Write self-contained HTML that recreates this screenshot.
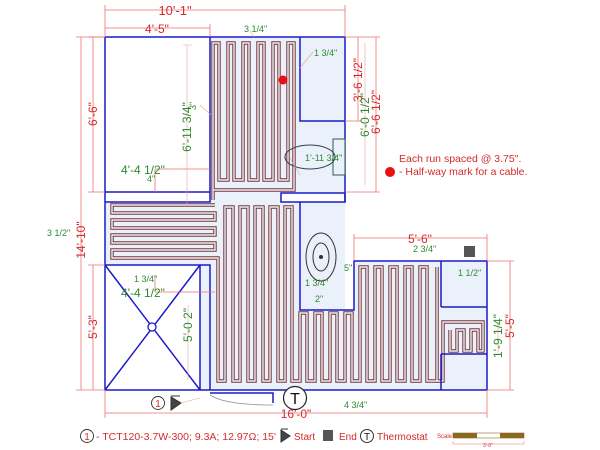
<!DOCTYPE html>
<html><head><meta charset="utf-8"><style>
html,body{margin:0;padding:0;background:#fff;}
svg{display:block;font-family:"Liberation Sans",sans-serif;}
.r{fill:#d42a2a;font-size:12px;}
.g{fill:#2e8b2e;font-size:9px;}
.G{fill:#2e8b2e;font-size:12px;}
.dl{stroke:#ee7070;stroke-width:0.8;fill:none;}
.b{stroke:#1a1acc;stroke-width:1.5;fill:none;}
.ld{stroke:#f0a0a0;stroke-width:0.6;fill:none;}
</style></head><body>
<svg width="600" height="450" viewBox="0 0 600 450">
<defs>
<g id="cab" fill="none">
<path d="M213 200 V43 H219 V180 H228 V43 H234 V180 H243 V43 H249 V180 H258 V43 H264 V180 H273 V43 H279 V180 H288 V43 H294 V190 H213"/>
<path d="M215 205 H112 V213 H215 V220 H112 V228 H215 V235 H112 V243 H215 V250 H112 V258 H218 V381 H225 V207 H233 V381 H240 V207 H248 V381 H255 V207 H263 V381 H270 V207 H278 V381 H285 V207 H292 V381 H300 V313 H307 V381 H315 V313 H322 V381 H330 V313 H337 V381 H345 V313 H352 V381 H360 V267 H367 V381 H375 V267 H382 V381 H390 V267 H397 V381 H405 V267 H412 V381 H420 V267 H427 V381 H437 V267"/>
<path d="M437 381 H443 V322 H483 V351 H478 V330 H471 V351 H464 V330 H457 V351 H450 V330"/>
</g>
</defs>
<!-- heated floor background -->
<path d="M210 37 H300 V193 H281 V202 H300 V310 H354 V261 H487 V390 H105 V202 H210 Z" fill="#eaf1fb"/>
<rect x="300" y="37" width="45" height="156" fill="#eaf1fb"/>
<rect x="300" y="202" width="45" height="108" fill="#eaf1fb"/>
<rect x="105" y="265" width="105" height="125" fill="#eaf1fb"/>
<!-- cables -->
<use href="#cab" fill="none" stroke="#7a3434" stroke-width="3.4"/>
<use href="#cab" fill="none" stroke="#eaf1fb" stroke-width="1.4"/>
<!-- white rooms -->
<rect x="105" y="37" width="105" height="155" fill="#fff"/>
<rect x="105" y="192" width="105" height="10" fill="#fff"/>
<rect x="300" y="37" width="45" height="84" fill="#eaf1fb"/>
<rect x="281" y="193" width="64" height="9" fill="#fff"/>
<rect x="105" y="265" width="95" height="125" fill="#fff"/>
<!-- blue walls -->
<g class="b">
<path d="M105 37 H345 V202 M210 37 V192 M105 37 V390 H487 V261 H354 V310 H300 V202 M105 192 H210 M105 202 H210 V192"/>
<path d="M300 37 V121 H345"/>
<rect x="281" y="193" width="64" height="9"/>
<path d="M105 265 H210 V390 M200 265 V390 M105 265 L200 390 M200 265 L105 390"/>
<path d="M441 261 V307 M441 354 V390 M441 307 H487 M441 354 H487"/>
<path d="M210 393 H273 V403"/>
</g>
<circle cx="152" cy="327" r="4" fill="#fff" stroke="#1a1acc" stroke-width="1.3"/>
<path d="M210 395 Q225 405 273 405" stroke="#999" stroke-width="0.8" fill="none"/>
<!-- fixtures -->
<rect x="333" y="139" width="12" height="36" fill="#eaf1fb" stroke="#2f5f4f" stroke-width="1"/>
<ellipse cx="310" cy="157" rx="25" ry="12" fill="none" stroke="#333f4f" stroke-width="1"/>
<ellipse cx="321" cy="257" rx="15" ry="24" fill="none" stroke="#333" stroke-width="1"/>
<ellipse cx="321" cy="257" rx="8" ry="14" fill="none" stroke="#333" stroke-width="1"/>
<circle cx="321" cy="257" r="2" fill="#333"/>
<!-- dimension lines -->
<g class="dl">
<path d="M105 10 H345 M105 5 V37 M345 5 V37"/>
<path d="M105 28 H210 M210 24 V37"/>
<path d="M93 37 V192 M88 37 H105 M88 192 H105"/>
<path d="M81 37 V390 M76 37 H105 M76 390 H105"/>
<path d="M93 265 V390 M88 265 H105"/>
<path d="M105 413 H487 M105 390 V418 M487 390 V418"/>
<path d="M358 37 V121 M345 37 H380 M345 121 H362"/>
<path d="M376 37 V192 M345 192 H380"/>
<path d="M354 238 H487 M354 234 V261 M487 234 V261"/>
<path d="M510 261 V390 M487 261 H514 M487 390 H514"/>
<path d="M155 169 V192 M155 169 H210 M155 292 V275 M155 292 H215"/>
</g>
<g class="ld">
<path d="M187 45 V205 M183 45 H192"/>
<path d="M365 43 V185 M498 322 V352 M188 305 V380"/>
<path d="M211 115 L200 105 M300 68 L313 52 M254 37 L250 31 M300 175 L290 158"/>
</g>
<!-- red labels -->
<g class="r" text-anchor="middle">
<text x="175" y="15" font-size="13">10'-1"</text>
<text x="157" y="33">4'-5"</text>
<text x="296" y="418">16'-0"</text>
<text x="420" y="243">5'-6"</text>
<text transform="translate(97,114) rotate(-90)">6'-6"</text>
<text transform="translate(85,240) rotate(-90)">14'-10"</text>
<text transform="translate(97,327) rotate(-90)">5'-3"</text>
<text transform="translate(362,80) rotate(-90)">3'-6 1/2"</text>
<text transform="translate(380,112) rotate(-90)">6'-6 1/2"</text>
<text transform="translate(514,326) rotate(-90)">5'-5"</text>
</g>
<g class="G" text-anchor="middle">
<text x="143" y="174">4'-4 1/2"</text>
<text x="143" y="297">4'-4 1/2"</text>
<text transform="translate(191,127) rotate(-90)">6'-11 3/4"</text>
<text transform="translate(369,115) rotate(-90)">6'-0 1/2"</text>
<text transform="translate(192,325) rotate(-90)">5'-0 2"</text>
<text transform="translate(502,336) rotate(-90)">1'-9 1/4"</text>
</g>
<g class="g">
<text x="244" y="32">3 1/4"</text>
<text x="314" y="56">1 3/4"</text>
<text transform="translate(196,110) rotate(-90)">3"</text>
<text x="147" y="182">4"</text>
<text x="305" y="161">1'-11 3/4"</text>
<text x="47" y="236">3 1/2"</text>
<text x="134" y="282">1 3/4"</text>
<text x="305" y="286">1 3/4"</text>
<text x="344" y="271">5"</text>
<text x="315" y="302">2"</text>
<text x="413" y="252">2 3/4"</text>
<text x="458" y="276">1 1/2"</text>
<text x="344" y="408">4 3/4"</text>
</g>
<!-- markers -->
<circle cx="283" cy="80" r="4.5" fill="#e81010"/>
<circle cx="390" cy="172" r="5" fill="#e81010"/>
<text x="399" y="162" fill="#d42a2a" font-size="10.5">Each run spaced @ 3.75".</text>
<text x="399" y="175" fill="#d42a2a" font-size="10.5">- Half-way mark for a cable.</text>
<rect x="464" y="246" width="11" height="11" fill="#555"/>
<circle cx="295" cy="398" r="11.5" fill="#fff" stroke="#222" stroke-width="1.2"/>
<text x="295" y="404" text-anchor="middle" font-size="16" fill="#111">T</text>
<circle cx="158" cy="403" r="6.5" fill="#fff" stroke="#333" stroke-width="0.9"/>
<text x="158" y="407" text-anchor="middle" font-size="10" fill="#d42a2a">1</text>
<path d="M171 396 H180 M171 397 V410 L181 403 Z" stroke="#333" fill="#444" stroke-width="1"/>
<path d="M181 403 L200 398" stroke="#f0a0a0" stroke-width="0.6"/>
<!-- legend -->
<circle cx="87" cy="436" r="6.5" fill="#fff" stroke="#333" stroke-width="0.9"/>
<text x="87" y="440" text-anchor="middle" font-size="10" fill="#d42a2a">1</text>
<text x="96" y="440" font-size="10.5" fill="#d42a2a">- TCT120-3.7W-300; 9.3A; 12.97Ω; 15'</text>
<path d="M281 429 H288 M281 430 V442 L290 436 Z" stroke="#333" fill="#444" stroke-width="1"/>
<text x="294" y="440" font-size="10" fill="#d42a2a">Start</text>
<rect x="323" y="430" width="10" height="11" fill="#555"/>
<text x="339" y="440" font-size="10" fill="#d42a2a">End</text>
<circle cx="367" cy="436" r="6.5" fill="#fff" stroke="#333" stroke-width="1"/>
<text x="367" y="440" text-anchor="middle" font-size="10" fill="#111">T</text>
<text x="377" y="440" font-size="10" fill="#d42a2a">Thermostat</text>
<text x="437" y="438" font-size="6" fill="#d42a2a">Scale</text>
<rect x="453" y="433" width="71" height="5" fill="#fff" stroke="#8a6a20" stroke-width="0.6"/>
<rect x="453" y="433" width="24" height="5" fill="#8a6a20"/>
<rect x="500" y="433" width="24" height="5" fill="#8a6a20"/>
<path d="M453 441 V444 H524 V441" stroke="#ee7070" stroke-width="0.5" fill="none"/>
<text x="488" y="447" font-size="5" fill="#d42a2a" text-anchor="middle">3'-0"</text>
</svg>
</body></html>
